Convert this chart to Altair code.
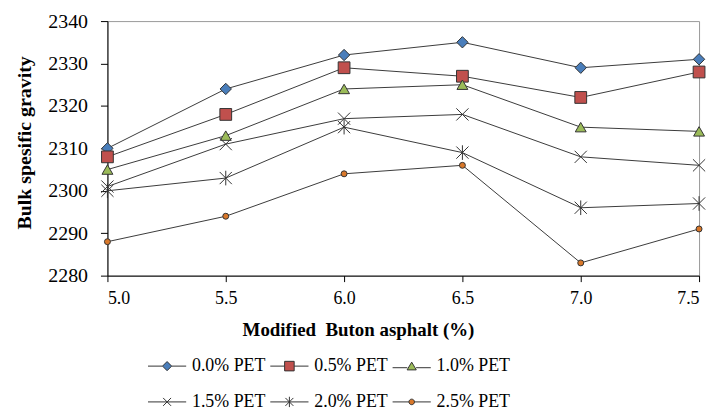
import altair as alt
import pandas as pd

x_vals = [5.0, 5.5, 6.0, 6.5, 7.0, 7.5]
series = ["0.0% PET", "0.5% PET", "1.0% PET", "1.5% PET", "2.0% PET", "2.5% PET"]
v00 = [2310, 2324, 2332, 2335, 2329, 2331]
v05 = [2308, 2318, 2329, 2327, 2322, 2328]
v10 = [2305, 2313, 2324, 2325, 2315, 2314]
v15 = [2301, 2311, 2317, 2318, 2308, 2306]
v20 = [2300, 2303, 2315, 2309, 2296, 2297]
v25 = [2288, 2294, 2304, 2306, 2283, 2291]
all_vals = [v00, v05, v10, v15, v20, v25]

fills = ["#4a7ebb", "#c0504d", "#9bbb59", "transparent", "transparent", "#d9782a"]

X_PATH = "M-1,-1L1,1M-1,1L1,-1"
AST_PATH = "M-1,-1L1,1M-1,1L1,-1M0,-1.2V1.2"
chart_shapes = ["diamond", "square", "triangle-up", X_PATH, AST_PATH, "circle"]
chart_sizes = [130, 140, 120, 150, 150, 36]

legend_shapes = [
    "M-4.8,0H-1.15M1.15,0H4.8M0,-1.15L1.15,0L0,1.15L-1.15,0Z",
    "M-4.8,0H-1.2M1.2,0H4.8M-1.2,-1.2H1.2V1.2H-1.2Z",
    "M-4.8,0.4H-1.1M1.1,0.4H4.8M0,-1.0L1.15,0.95H-1.15Z",
    "M-4.8,0H4.8M-1,-1L1,1M-1,1L1,-1",
    "M-4.8,0H4.8M-1,-1L1,1M-1,1L1,-1M0,-1.3V1.3",
    "M-4.8,0H-0.7M0.7,0H4.8M0.7,0A0.7,0.7,0,1,1,-0.7,0A0.7,0.7,0,1,1,0.7,0Z",
]

rows = []
for i, (s, vals) in enumerate(zip(series, all_vals)):
    for x, v in zip(x_vals, vals):
        rows.append({"x": x, "y": v, "series": s, "shp": chart_shapes[i],
                     "sz": chart_sizes[i], "fc": fills[i]})
df = pd.DataFrame(rows)

xenc = alt.X("x:Q", scale=alt.Scale(domain=[5.0, 7.5], nice=False, zero=False),
             axis=alt.Axis(values=x_vals, format=".1f", title="Modified\u00a0 Buton asphalt (%)",
                           grid=False, tickSize=6, labelPadding=8,
                           titleX=252, titleY=45, titleAlign="center", titleBaseline="top",
                           titleFontSize=19,
                           domainColor="#000", tickColor="#000"))
yenc = alt.Y("y:Q", scale=alt.Scale(domain=[2280, 2340], nice=False, zero=False),
             axis=alt.Axis(values=list(range(2280, 2341, 10)), format="d",
                           title="Bulk spesific gravity",
                           grid=False, tickSize=7, labelPadding=13,
                           titleX=-73, titleY=122, titleAlign="center", titleBaseline="bottom",
                           titleAngle=270, titleFontSize=20, labelFontSize=20,
                           domainColor="#000", tickColor="#000"))

base = alt.Chart(df)

lines = base.mark_line(color="#3a3a3a", strokeWidth=1).encode(x=xenc, y=yenc, detail="series:N")

points = base.mark_point(filled=True, stroke="#333333", strokeWidth=1, opacity=1).encode(
    x="x:Q", y="y:Q",
    shape=alt.Shape("shp:N", scale=None),
    fill=alt.Fill("fc:N", scale=None),
    size=alt.Size("sz:Q", scale=None),
)

legend_layer = base.transform_filter("datum.y < 0").mark_point(
    filled=False, stroke="#333333", color="#333333", strokeWidth=1, size=64, opacity=1
).encode(
    x="x:Q", y="y:Q",
    shape=alt.Shape("series:N", scale=alt.Scale(domain=series, range=legend_shapes),
                    legend=alt.Legend(title=None, orient="none", legendX=51, legendY=338,
                                      columns=3, direction="horizontal", gridAlign="all",
                                      symbolSize=64, labelOffset=16, columnPadding=2,
                                      rowPadding=18, labelFontSize=18, labelFont="Liberation Serif",
                                      labelColor="#000", symbolOpacity=1, labelLimit=200,
                                      symbolStrokeColor="#333333", symbolStrokeWidth=1)),
    fill=alt.Fill("series:N", scale=alt.Scale(domain=series, range=fills), legend=None),
)

chart = alt.layer(lines, points, legend_layer).properties(
    width=595, height=256,
    autosize=alt.AutoSizeParams(type="none"),
    padding={"left": 100, "top": 12, "right": 10, "bottom": 138},
).configure_view(stroke="#999999", strokeWidth=1).configure_axis(
    labelFont="Liberation Serif", titleFont="Liberation Serif",
    labelFontSize=18, titleFontSize=17, titleFontWeight="bold",
    labelColor="#000", titleColor="#000",
)

chart.save("out.html", embed_options={"renderer": "svg", "actions": False})
